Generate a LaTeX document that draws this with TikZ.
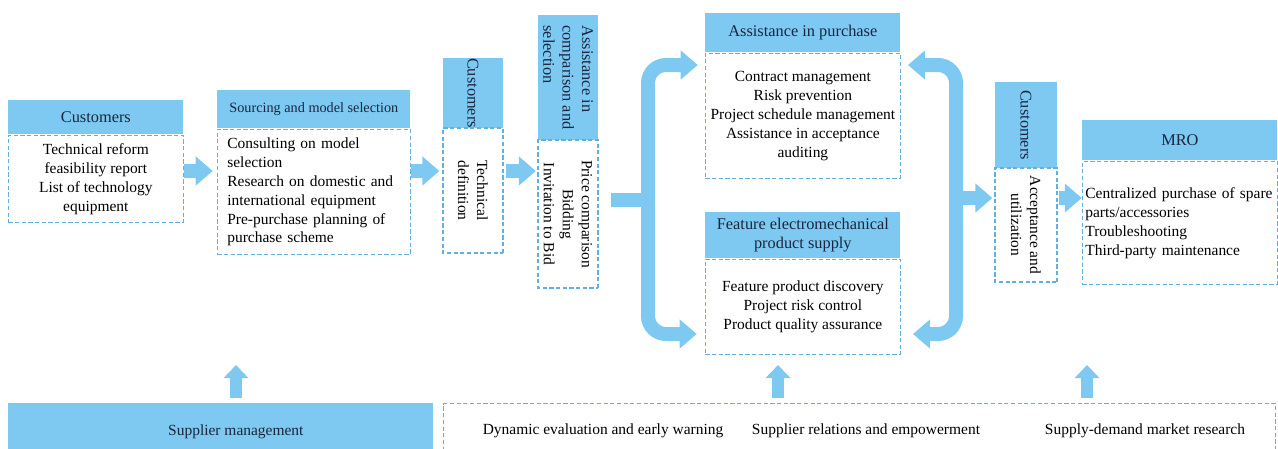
\documentclass[tikz,border=0pt]{standalone}
\usepackage{fontspec}
\setmainfont{Liberation Serif}
\usetikzlibrary{arrows.meta,positioning}
\definecolor{boxblue}{RGB}{126,201,241}
\definecolor{dashblue}{RGB}{98,176,226}
\definecolor{hdrnavy}{RGB}{24,38,62}

\begin{document}
\begin{tikzpicture}[x=0.2mm, y=-0.2mm,
    every node/.style={font=\fontsize{8.8}{10.8}\selectfont, inner sep=0pt},
    hdr/.style={fill=boxblue, text=hdrnavy, align=center, font=\fontsize{9.3}{11}\selectfont},
    bodybox/.style={draw=dashblue, line width=0.7pt, dash pattern=on 2.4pt off 1.4pt, align=center},
    flow/.style={draw=boxblue, line width=2.8mm, -{Triangle[width=5.6mm,length=3.4mm]}},
    fork/.style={flow, rounded corners=3.6mm},
    uparrow/.style={draw=boxblue, line width=2.4mm, -{Triangle[width=4.8mm,length=2.6mm]}}]
    \useasboundingbox (0,0) rectangle (1278,448);

    % customers, sourcing and the two narrow boxes
    \node[hdr, anchor=north west, minimum width=35mm, minimum height=6.8mm] (cust1h) at (8,100) {Customers};
    \node[bodybox, below=0pt of cust1h, minimum width=35mm, minimum height=17.4mm] (cust1b) {Technical reform\\feasibility report\\List of technology\\equipment};
    \node[hdr, anchor=north west, minimum width=38.6mm, minimum height=7.6mm, font=\fontsize{8.1}{10}\selectfont] (srch) at (217,90) {Sourcing and model selection};
    \node[bodybox, below=0pt of srch, minimum width=38.6mm, minimum height=25mm, text width=34.6mm, inner xsep=2mm, align=left] (srcb) {Consulting on model\\selection\\Research on domestic and\\international equipment\\Pre-purchase planning of\\purchase scheme};
    \node[hdr, rotate=-90, minimum width=14mm, minimum height=12mm] (cust2h) at (473,93) {Customers};
    \node[bodybox, rotate=-90, minimum width=25mm, minimum height=12mm] (cust2b) at (473,190.5) {Technical\\definition};
    \node[hdr, rotate=-90, minimum width=25mm, minimum height=12mm, align=left] (cmph) at (568,77.5) {Assistance in\\comparison and\\selection};
    \node[bodybox, rotate=-90, minimum width=29.6mm, minimum height=12mm] (cmpb) at (568,214) {Price comparison\\Bidding\\Invitation to Bid};

    % purchase and supply
    \node[hdr, anchor=north west, minimum width=39mm, minimum height=7.8mm] (purh) at (705,13) {Assistance in purchase};
    \node[bodybox, below=0pt of purh, minimum width=39mm, minimum height=25mm] (purb) {Contract management\\Risk prevention\\Project schedule management\\Assistance in acceptance\\auditing};
    \node[hdr, anchor=north west, minimum width=39mm, minimum height=9.2mm] (feath) at (705,212) {Feature electromechanical\\product supply};
    \node[bodybox, below=0pt of feath, minimum width=39mm, minimum height=19mm] (featb) {Feature product discovery\\Project risk control\\Product quality assurance};

    % acceptance and MRO
    \node[hdr, rotate=-90, minimum width=17.2mm, minimum height=12.4mm] (cust3h) at (1026,125) {Customers};
    \node[bodybox, rotate=-90, minimum width=22.8mm, minimum height=12.4mm] (cust3b) at (1026,225) {Acceptance and\\utilization};
    \node[hdr, anchor=north west, minimum width=39mm, minimum height=8mm] (mroh) at (1082,120) {MRO};
    \node[bodybox, below=0pt of mroh, minimum width=39mm, minimum height=24.6mm, text width=37.8mm, inner xsep=0.6mm, align=left] (mrob) {Centralized purchase of spare\\parts/accessories\\Troubleshooting\\Third-party maintenance};

    % supplier management row
    \node[hdr, anchor=north west, minimum width=85mm, minimum height=11.2mm, font=\fontsize{8.8}{10.8}\selectfont] (supm) at (8,403) {\hspace*{6mm}Supplier management};
    \node[bodybox, anchor=north west, minimum width=166.4mm, minimum height=11.2mm] (suprow) at (443,403) {};
    \node (evw) at (603,431) {Dynamic evaluation and early warning};
    \node (srel) at (866,431) {Supplier relations and empowerment};
    \node (smr) at (1145,431) {Supply-demand market research};

    % flow arrows
    \coordinate (flowrow) at (0,171);
    \draw[flow, shorten >=0.8mm] (cust1b.east |- flowrow) -- (srcb.west |- flowrow);
    \draw[flow, shorten >=0.6mm] (srcb.east |- flowrow) -- (cust2b.south |- flowrow);
    \draw[flow, shorten <=0.4mm, shorten >=0.3mm] (cust2b.north |- flowrow) -- (cmpb.south |- flowrow);

    \coordinate (lsplit) at (648,200);
    \coordinate (rsplit) at (956,198);
    \coordinate (forkup) at (0,65);
    \coordinate (forkdn) at (0,334);
    \draw[draw=boxblue, line width=2.8mm, shorten <=2.4mm] (cmpb.north |- lsplit) -- (lsplit);
    \draw[fork, shorten >=1.4mm] (lsplit) |- (purb.west |- forkup);
    \draw[fork, shorten >=1.6mm] (lsplit) |- (featb.west |- forkdn);
    \draw[fork, shorten >=1.4mm] (rsplit) |- (purb.east |- forkup);
    \draw[fork, shorten >=2.4mm] (rsplit) |- (featb.east |- forkdn);
    \draw[flow, shorten >=0.4mm] (rsplit) -- (cust3b.south |- rsplit);
    \draw[flow, shorten <=0.2mm] (cust3b.north |- rsplit) -- (mrob.west |- rsplit);

    \coordinate (up1) at (236,365);
    \coordinate (up2) at (778,365);
    \coordinate (up3) at (1087,365);
    \draw[uparrow, shorten <=1mm] (up1 |- supm.north) -- (up1);
    \draw[uparrow, shorten <=1mm] (up2 |- suprow.north) -- (up2);
    \draw[uparrow, shorten <=1mm] (up3 |- suprow.north) -- (up3);
\end{tikzpicture}
\end{document}
